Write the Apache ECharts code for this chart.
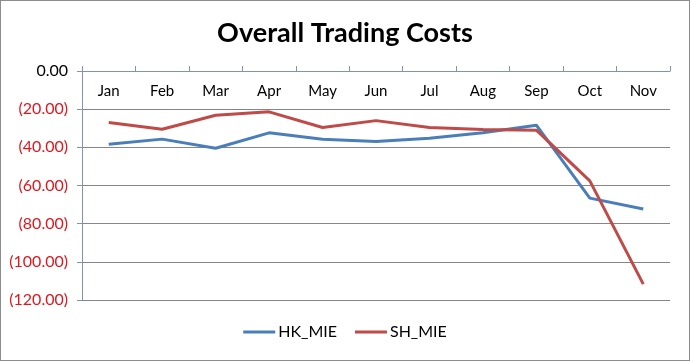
<!DOCTYPE html>
<html>
<head>
    <meta charset="UTF-8">
    <title>Overall Trading Costs</title>
    <style>
        html, body { margin: 0; padding: 0; background: #fff; }
        #main { width: 690px; height: 361px; box-sizing: border-box; border: 1px solid #8c8c8c; }
    </style>
</head>
<body>
<div id="main"></div>
<script src="https://cdn.jsdelivr.net/npm/echarts@6/dist/echarts.min.js"></script>
<script type="text/javascript">
    // data
    var months = ['Jan', 'Feb', 'Mar', 'Apr', 'May', 'Jun', 'Jul', 'Aug', 'Sep', 'Oct', 'Nov'];
    var hkMie = [-38.4, -35.7, -40.5, -32.4, -35.8, -36.9, -35.3, -32.4, -28.4, -66.6, -72.3];
    var shMie = [-27.0, -30.5, -23.2, -21.4, -29.6, -26.0, -29.6, -30.6, -31.0, -57.6, -111.7];

    var font = 'Lato, "Open Sans", sans-serif';

    var myChart = echarts.init(document.getElementById('main'));
    var option = {
        animation: false,
        title: {
            text: 'Overall Trading Costs',
            left: 'center',
            top: 14,
            textStyle: { fontFamily: font, fontSize: 27, fontWeight: 'bold', color: '#000' }
        },
        legend: {
            bottom: 15,
            left: 'center',
            icon: 'rect',
            itemWidth: 32,
            itemHeight: 3,
            itemGap: 18,
            textStyle: { fontFamily: font, fontSize: 16, color: '#000', padding: [0, 0, 0, -2] },
            data: ['HK_MIE', 'SH_MIE']
        },
        grid: { left: 81, right: 19, top: 70, bottom: 60 },
        xAxis: {
            type: 'category',
            position: 'top',
            data: months,
            axisLine: { lineStyle: { color: '#7f95ad', width: 1 } },
            axisTick: { show: true, length: 5, lineStyle: { color: '#7f95ad' } },
            axisLabel: { inside: true, margin: 13, fontFamily: font, fontSize: 15, color: '#000' }
        },
        yAxis: {
            type: 'value',
            min: -120,
            max: 0,
            interval: 20,
            axisLine: { show: true, lineStyle: { color: '#7f95ad' } },
            axisTick: { show: true, length: 5, lineStyle: { color: '#7f95ad' } },
            splitLine: { lineStyle: { color: '#868686' } },
            axisLabel: {
                margin: 14,
                fontFamily: font,
                fontSize: 16,
                formatter: function (v) {
                    return v < 0 ? '(' + Math.abs(v).toFixed(2) + ')' : v.toFixed(2);
                },
                color: function (v) {
                    return Number(v) < 0 ? '#e0161e' : '#000';
                }
            }
        },
        series: [
            {
                name: 'HK_MIE', type: 'line', data: hkMie, symbol: 'none',
                lineStyle: { color: '#4a7ebb', width: 3 }, itemStyle: { color: '#4a7ebb' }
            },
            {
                name: 'SH_MIE', type: 'line', data: shMie, symbol: 'none',
                lineStyle: { color: '#be4b48', width: 3 }, itemStyle: { color: '#be4b48' }
            }
        ]
    };
    myChart.setOption(option);
</script>
</body>
</html>
